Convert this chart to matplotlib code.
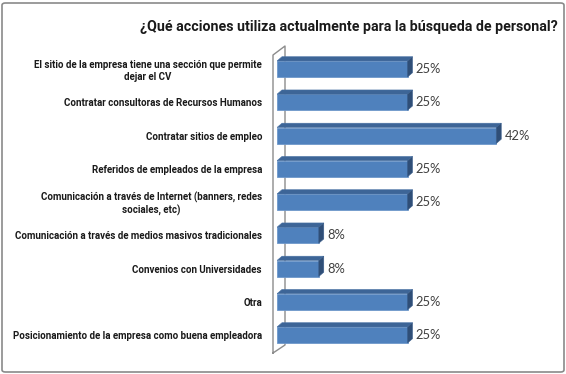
import matplotlib
matplotlib.use('Agg')
import matplotlib.pyplot as plt
from matplotlib.patches import Polygon, FancyBboxPatch

# datos del grafico
titulo = '¿Qué acciones utiliza actualmente para la búsqueda de personal?'
categorias = [
    'El sitio de la empresa tiene una sección que permite\ndejar el CV',
    'Contratar consultoras de Recursos Humanos',
    'Contratar sitios de empleo',
    'Referidos de empleados de la empresa',
    'Comunicación a través de Internet (banners, redes\nsociales, etc)',
    'Comunicación a través de medios masivos tradicionales',
    'Convenios con Universidades',
    'Otra',
    'Posicionamiento de la empresa como buena empleadora',
]
valores = [25, 25, 42, 25, 25, 8, 8, 25, 25]

plt.rcParams['font.family'] = ['Lato', 'DejaVu Sans']
estrecha = ['Roboto', 'DejaVu Sans']

W, H = 566, 374
fig = plt.figure(figsize=(W / 100, H / 100), dpi=100)
ax = fig.add_axes([277 / W, 1 - 365 / H, 283 / W, 325 / H])

px_x = 5.22   # pixeles por 1%
px_y = 33.25  # pixeles entre barras
pos = list(range(len(categorias)))
alto = 16 / px_y
dx, dy = 5 / px_x, 4.3 / px_y

ax.set_xlim(0, 283 / px_x)
ax.set_ylim((365 - 69) / px_y, (40 - 69) / px_y)

# pared 3D
pared_x = [-4 / px_x, -4 / px_x, 8 / px_x, 8 / px_x, -4 / px_x]
pared_y = [(353 - 69) / px_y, (55 - 69) / px_y, (46 - 69) / px_y, (345 - 69) / px_y, (353 - 69) / px_y]
ax.plot(pared_x, pared_y, color='#8c8c8c', lw=1, clip_on=False, zorder=1)

# barras
ax.barh(pos, valores, height=alto, color='#4F81BD', edgecolor='#6F98CA', lw=0.6, zorder=3)
for y, v in zip(pos, valores):
    arriba = y - alto / 2
    abajo = y + alto / 2
    tapa = Polygon([(0, arriba), (v, arriba), (v + dx, arriba - dy), (dx, arriba - dy)],
                   closed=True, fc='#3D6597', ec='#4A73A6', lw=0.4, zorder=3)
    lado = Polygon([(v, arriba), (v + dx, arriba - dy), (v + dx, abajo - dy), (v, abajo)],
                   closed=True, fc='#2F4E77', ec='#3A5E8C', lw=0.4, zorder=3)
    ax.add_patch(tapa)
    ax.add_patch(lado)
    ax.annotate(f'{v}%', xy=(v, y), xytext=(6, 0), textcoords='offset points',
                va='center', ha='left', fontsize=9.3, color='#404040')

ax.set_yticks(pos, categorias)
ax.set_xticks([])
ax.tick_params(axis='y', length=0, pad=10.8)
for s in ax.spines.values():
    s.set_visible(False)
for lbl in ax.get_yticklabels():
    lbl.set_family(estrecha)
    lbl.set_fontweight('bold')
    lbl.set_multialignment('center')
    lbl.set_color('#1a1a1a')

t = fig.text(349 / W, 1 - 31 / H, titulo, ha='center', va='baseline',
             fontweight='bold', fontsize=9, color='#1a1a1a', family=estrecha)

# ajustar tamaños de letra al ancho del original
fig.canvas.draw()
r = fig.canvas.get_renderer()
fs = t.get_fontsize() * 416 / t.get_window_extent(r).width
t.set_fontsize(fs)
lbls = ax.get_yticklabels()
ancho = max(l.get_window_extent(r).width for l in lbls)
fs_l = lbls[0].get_fontsize() * 249 / ancho
ax.tick_params(axis='y', labelsize=fs_l)

fig.patches.append(FancyBboxPatch((2 / W, 2 / H), 562 / W, 369 / H,
                                  boxstyle='round,pad=0,rounding_size=0.006',
                                  transform=fig.transFigure, fill=False,
                                  ec='#8a8a8a', lw=1.2))

fig.savefig('out.png', dpi=100)
